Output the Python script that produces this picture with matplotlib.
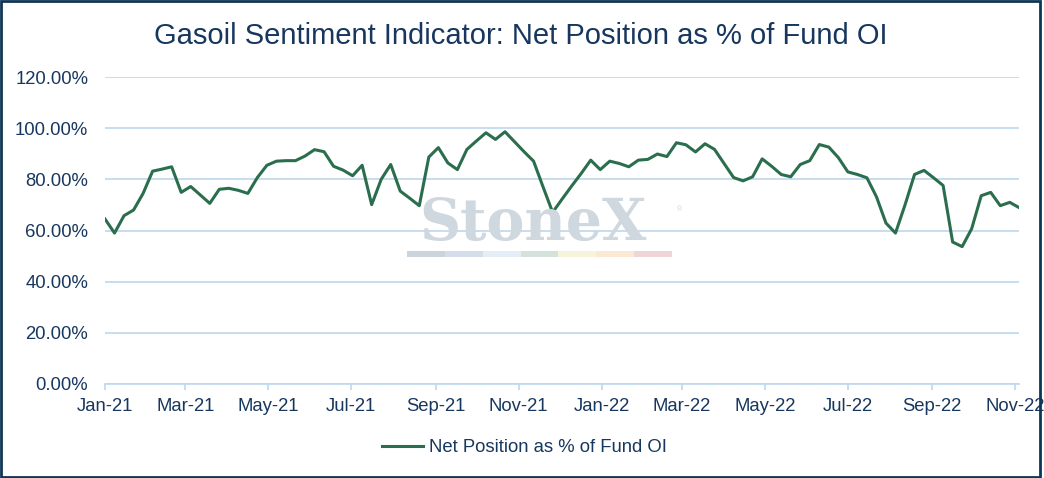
import matplotlib
matplotlib.use("Agg")
import matplotlib.pyplot as plt
import matplotlib.dates as mdates
from matplotlib.ticker import PercentFormatter, MultipleLocator
from matplotlib.patches import Rectangle
import pandas as pd

plt.rcParams['font.family'] = ['Liberation Sans', 'DejaVu Sans']

title = "Gasoil Sentiment Indicator: Net Position as % of Fund OI"
series_name = "Net Position as % of Fund OI"
start_date = "2021-01-05"
net_pct = [
    64.5, 59.0, 65.8, 68.0, 74.5, 83.2, 84.0, 84.9, 74.9, 77.2, 73.9, 70.6, 76.1, 76.5, 75.7, 74.5,
    80.7, 85.5, 87.1, 87.3, 87.3, 89.1, 91.6, 90.8, 85.1, 83.6, 81.4, 85.5, 70.1, 80.0, 85.8,
    75.4, 72.6, 69.7, 88.7, 92.4, 86.4, 83.8, 91.7, 95.0, 98.2, 95.6, 98.6, 94.7, 90.8, 87.1,
    77.0, 67.1, 72.3, 77.4, 82.3, 87.5, 83.8, 87.1, 86.2, 84.9, 87.5, 87.8, 89.9, 88.9, 94.3,
    93.5, 90.7, 93.9,
    91.7, 86.2, 80.7, 79.4, 81.0, 88.0, 85.1, 81.9, 81.0, 85.8, 87.3, 93.6, 92.6, 88.5, 82.9,
    81.9, 80.6, 73.2, 62.9, 59.0, 70.0, 81.9, 83.5, 80.6, 77.6, 55.5, 53.7, 60.7, 73.6, 74.9,
    69.7, 71.0, 68.9,
]
dates = pd.date_range(start_date, periods=len(net_pct), freq="7D")
tick_dates = pd.to_datetime([
    "2021-01-05", "2021-03-05", "2021-05-05", "2021-07-05", "2021-09-05", "2021-11-05",
    "2022-01-05", "2022-03-05", "2022-05-05", "2022-07-05", "2022-09-05", "2022-11-05",
])

navy = "#17375E"
grid_c = "#BDD7EE"
line_c = "#2B6E4D"

W, H = 1044, 478
fig = plt.figure(figsize=(W / 100, H / 100), dpi=100)
ax = fig.add_axes([105 / W, 1 - 384 / H, (1019.3 - 105) / W, (384 - 77) / H])

# watermark
fig.text(533 / W, 1 - 240 / H, "StoneX", family="DejaVu Serif", weight="bold",
         fontsize=41, color="#CFD7DF", ha="center", va="baseline", zorder=0)
fig.text(680 / W, 1 - 210 / H, "®", fontsize=5, color="#CFD7DF", ha="center", va="center", zorder=0)
bar_cols = ["#CBD3DB", "#D3DEEA", "#E3EEF6", "#D3E2DA", "#F7F3DB", "#FBE9D3", "#F0D5D7"]
x0, x1, yb, yt = 407, 672, 256.7, 251
seg = (x1 - x0) / len(bar_cols)
for i, c in enumerate(bar_cols):
    fig.patches.append(Rectangle(((x0 + i * seg) / W, 1 - yb / H), seg / W, (yb - yt) / H,
                                 transform=fig.transFigure, facecolor=c, edgecolor="none", zorder=0))

ax.set_facecolor("none")
ax.plot(dates, net_pct, color=line_c, lw=2.2, zorder=3, label=series_name)

ax.set_ylim(0, 120)
ax.set_xlim(dates[0], dates[-1])
ax.yaxis.set_major_locator(MultipleLocator(20))
ax.yaxis.set_major_formatter(PercentFormatter(xmax=100, decimals=2))
ax.set_xticks(tick_dates)
ax.xaxis.set_major_formatter(mdates.DateFormatter("%b-%y"))

ax.grid(axis="y", color=grid_c, lw=1.2, zorder=1)
ax.set_axisbelow(True)
for s in ["top", "right", "left"]:
    ax.spines[s].set_visible(False)
ax.spines["bottom"].set_color(grid_c)
ax.spines["bottom"].set_linewidth(1.2)
ax.tick_params(axis="y", length=0, pad=12, labelsize=13.3, labelcolor=navy)
ax.tick_params(axis="x", length=4, width=1.2, color=grid_c, pad=6, labelsize=13.3, labelcolor=navy)

fig.text(521 / W, 1 - 44 / H, title, fontsize=21, color=navy, ha="center", va="baseline")

fig.legend(loc="center", bbox_to_anchor=(524.5 / W, 1 - 447.7 / H), frameon=False,
           fontsize=13.3, labelcolor=navy, handlelength=2.2, handletextpad=0.3)

fig.patches.append(Rectangle((1.3 / W, 1.3 / H), (W - 5.5) / W, (H - 2.6) / H, transform=fig.transFigure,
                             fill=False, edgecolor="#0E3556", lw=2.0, zorder=10))

fig.savefig("out.png", dpi=100)
